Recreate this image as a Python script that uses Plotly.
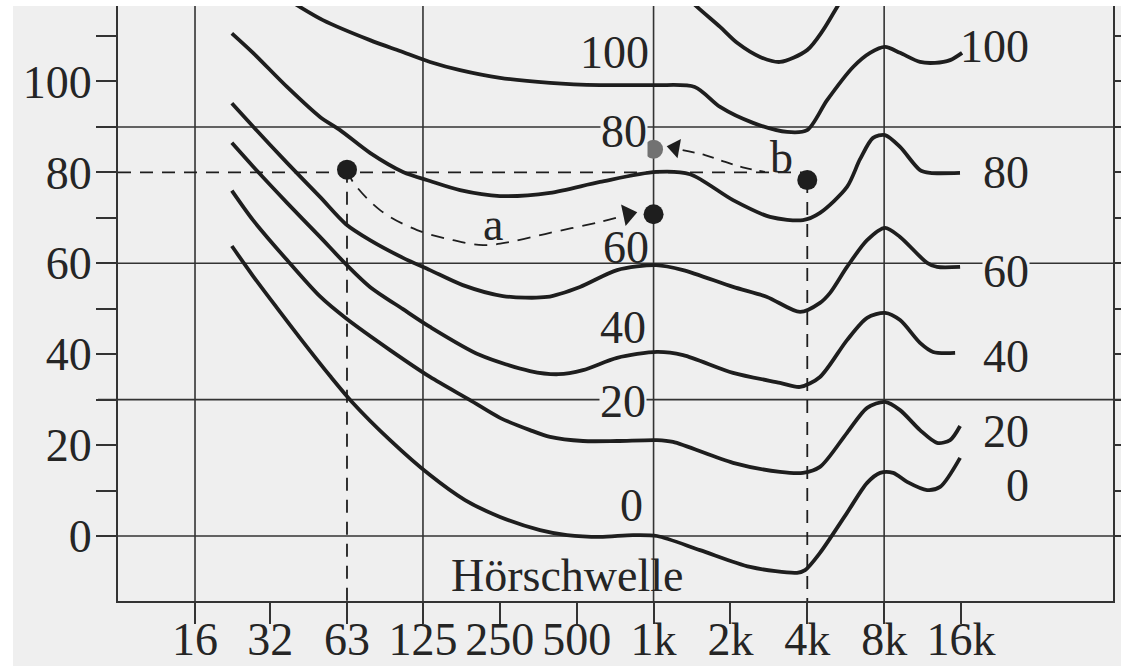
import numpy as np
import plotly.graph_objects as go

# ---- equal-loudness contours: frequency (Hz) and sound pressure level (dB) ----
f_0 = [22.3, 27.0, 33.5, 41.2, 54.1, 65.9, 92.9, 133.2, 182.6, 250.4, 359.2, 458.1, 617.1,
       830.9, 1031.6, 1520, 2387, 3648, 3922, 4486, 5724, 6861, 7714, 8675, 9840, 11786,
       13252, 15870]
L_0 = [63.8, 57.2, 50.2, 43.6, 35.2, 29.5, 21.1, 13.4, 7.9, 4.2, 1.3, 0.2, -0.2,
       0.2, 0.0, -3.1, -6.8, -8.1, -7.5, -3.7, 5.1, 11.7, 13.9, 13.9, 11.9, 10.1,
       10.8, 17.2]

f_20 = [22.3, 27.0, 36.7, 49.4, 62.4, 92.9, 133.2, 191.1, 250.4, 328.2, 393.1, 529.2, 719.5,
        1031.6, 1192, 2048, 3129, 3849, 4486, 5724, 6861, 8065, 9233, 11056, 12896, 14503,
        15870]
L_20 = [76.0, 69.5, 60.7, 52.7, 47.9, 40.9, 35.0, 29.9, 26.0, 23.3, 21.8, 20.9, 20.9,
        21.1, 20.7, 16.1, 14.1, 13.9, 15.2, 22.7, 28.2, 29.5, 27.7, 23.3, 20.5, 21.1,
        24.2]

f_40 = [22.3, 27.0, 36.7, 49.4, 62.4, 77.5, 104.4, 133.2, 209, 328.2, 424, 529.2, 719.5,
        1031.6, 1305, 2048, 3129, 3749, 4486, 5724, 6861, 8065, 9233, 11056, 12438, 15171]
L_40 = [86.5, 81.3, 73.3, 65.8, 59.8, 54.8, 49.9, 46.0, 39.8, 36.3, 35.6, 36.5, 39.2,
        40.5, 39.8, 35.9, 33.7, 32.8, 35.0, 43.1, 48.0, 49.1, 47.5, 42.5, 40.5, 40.3]

f_60 = [22.3, 27.0, 36.7, 49.4, 62.4, 77.5, 104.4, 133.2, 179, 257, 383, 515, 719.5, 1023,
        1305, 2048, 2782, 3749, 4486, 4914, 5724, 6861, 8065, 9233, 11786, 12896, 15870]
L_60 = [95.2, 90.1, 82.1, 74.6, 68.6, 65.1, 61.2, 58.5, 55.2, 52.8, 52.6, 54.8, 58.5, 59.6,
        58.5, 54.8, 52.6, 49.3, 51.3, 53.5, 59.2, 65.1, 67.8, 65.8, 60.1, 59.2, 59.2]

f_80 = [22.3, 27.0, 36.7, 49.4, 59.2, 77.5, 104.4, 133.2, 174.6, 250.4, 393.1, 617.1, 1023,
        1389, 2048, 2858, 3849, 4486, 5724, 6437, 7237, 8065, 9233, 11056, 12101, 15859]
L_80 = [110.6, 106.3, 98.8, 92.2, 89.3, 84.3, 80.1, 78.1, 76.1, 74.8, 75.5, 77.9, 80.1,
        79.6, 73.9, 70.2, 69.5, 71.1, 76.8, 82.9, 87.6, 88.2, 85.6, 80.5, 79.9, 79.9]

f_100 = [31.5, 41.2, 50.7, 77.5, 101.6, 133.2, 174.6, 250.4, 393.1, 617.1, 1023, 1450, 1822,
         2453, 3334, 3994, 4783, 6047, 7047, 8065, 9233, 11056, 12664, 14503, 16158]
L_100 = [120.6, 116.4, 113.5, 109.1, 106.7, 104.3, 102.5, 100.8, 99.7, 99.2, 99.2, 98.8, 94.4,
         90.9, 88.9, 89.3, 95.9, 103.2, 106.3, 107.6, 106.3, 104.3, 104.1, 104.7, 106.3]

f_120 = [1270, 1481, 1822, 2124, 2613, 3130, 3994, 4613, 5234, 5885]
L_120 = [120.1, 116.4, 112.0, 108.5, 105.4, 104.3, 106.9, 111.3, 116.4, 121.2]

# ---- example points and arrows ----
point_f = [63, 4000, 1000]
point_L = [80.6, 78.3, 70.8]
shifted_f = [1000]
shifted_L = [85.1]

path_a_f = [63, 66.5, 84.9, 118.6, 164, 215, 274, 393, 617, 780]
path_a_L = [80.6, 77.9, 71.7, 67.3, 65.1, 64.0, 64.7, 66.7, 69.1, 70.6]
path_b_f = [1300, 1590, 1910, 2280, 2730]
path_b_L = [84.9, 83.8, 82.3, 81.0, 80.1]
arrow_a = (794, 70.8)
arrow_b = (1214, 85.4)
ref_level = 80

# ---- axes ----
tick_f = [16, 31.5, 63, 125, 250, 500, 1000, 2000, 4000, 8000, 16000]
tick_txt = ["16", "32", "63", "125", "250", "500", "1k", "2k", "4k", "8k", "16k"]
grid_f = [16, 125, 1000, 8000]
grid_L = [0, 30, 60, 90]
y_ticks = list(range(0, 111, 10))
y_txt = [str(v) if v % 20 == 0 and v <= 100 else "" for v in y_ticks]

contour_labels = [("100", 706, 106.3), ("80", 766, 89.1), ("60", 780, 63.4),
                  ("40", 759, 45.8), ("20", 759, 29.5), ("0", 823, 6.8)]
right_labels = [("100", 107.6), ("80", 80.0), ("60", 58.3), ("40", 39.4),
                ("20", 22.9), ("0", 11.2)]

X_RANGE = [0.9025, 4.7994]
Y_RANGE = [-14.3, 117.93]

INK = "#1e1e1e"
LINE = "#333333"
PAPER = "#efefef"
FONT = "Liberation Serif"

fig = go.Figure()

curve_style = dict(color=INK, width=3.8, shape="spline", smoothing=0.8)
for fx, ly in [(f_0, L_0), (f_20, L_20), (f_40, L_40), (f_60, L_60),
               (f_80, L_80), (f_100, L_100), (f_120, L_120)]:
    fig.add_trace(go.Scatter(x=fx, y=ly, mode="lines", line=curve_style,
                             hoverinfo="skip", showlegend=False))

dash_style = dict(color=INK, width=1.8, dash="13px,9px")
# reference lines through the example points
fig.add_trace(go.Scatter(x=[10 ** X_RANGE[0], point_f[1]], y=[ref_level, ref_level],
                         mode="lines", line=dash_style, showlegend=False))
fig.add_trace(go.Scatter(x=[point_f[0], point_f[0]], y=[point_L[0], Y_RANGE[0]],
                         mode="lines", line=dash_style, showlegend=False))
fig.add_trace(go.Scatter(x=[point_f[1], point_f[1]], y=[point_L[1], Y_RANGE[0]],
                         mode="lines", line=dash_style, showlegend=False))
fig.add_trace(go.Scatter(x=path_a_f, y=path_a_L, mode="lines",
                         line=dict(color=INK, width=1.8, dash="13px,9px",
                                   shape="spline", smoothing=1.0), showlegend=False))
fig.add_trace(go.Scatter(x=path_b_f, y=path_b_L, mode="lines",
                         line=dict(color=INK, width=1.8, dash="12px,8px",
                                   shape="spline", smoothing=1.0), showlegend=False))

# arrow heads
fig.add_trace(go.Scatter(x=[arrow_a[0]], y=[arrow_a[1]], mode="markers",
                         marker=dict(symbol="triangle-right", size=19, color=INK, angle=-12),
                         showlegend=False))
fig.add_trace(go.Scatter(x=[arrow_b[0]], y=[arrow_b[1]], mode="markers",
                         marker=dict(symbol="triangle-left", size=17, color=INK, angle=10),
                         showlegend=False))

# points
fig.add_trace(go.Scatter(x=point_f, y=point_L, mode="markers",
                         marker=dict(size=20, color=INK), showlegend=False))
fig.add_trace(go.Scatter(x=shifted_f, y=shifted_L, mode="markers",
                         marker=dict(size=19, color="#727272"), showlegend=False))

shapes = []
for g in grid_L:
    shapes.append(dict(type="line", xref="paper", yref="y", x0=-20 / 995, x1=1.02,
                       y0=g, y1=g, line=dict(color=LINE, width=1.6), layer="below"))
for g in grid_f:
    shapes.append(dict(type="line", xref="x", yref="paper", x0=g, x1=g, y0=0, y1=1,
                       line=dict(color=LINE, width=1.6), layer="below"))
# unprinted edge of the sheet
shapes.append(dict(type="rect", xref="paper", yref="paper", x0=-0.2, x1=1.1,
                   y0=1 - 6 / 601, y1=1.01, fillcolor="white", line=dict(width=0),
                   layer="above"))
shapes.append(dict(type="rect", xref="paper", yref="paper", x0=-0.2, x1=-105 / 995,
                   y0=-0.2, y1=1.01, fillcolor="white", line=dict(width=0), layer="above"))

annotations = []
txt_font = dict(family=FONT, size=46, color="#252525")
masked = {"80", "20"}
for t, f, lv in contour_labels:
    annotations.append(dict(x=np.log10(f), y=lv, xref="x", yref="y", text=t,
                            showarrow=False, font=txt_font,
                            bgcolor=PAPER if t in masked else None, borderpad=0))
for t, lv in right_labels:
    annotations.append(dict(x=4.4744, y=lv, xref="x", yref="y", text=t,
                            showarrow=False, font=txt_font, xanchor="right",
                            bgcolor=PAPER if t == "60" else None, borderpad=0))
annotations.append(dict(x=np.log10(458), y=-8.6, xref="x", yref="y", text="Hörschwelle",
                        showarrow=False, font=txt_font))
annotations.append(dict(x=np.log10(235), y=68.5, xref="x", yref="y", text="a",
                        showarrow=False, font=txt_font))
annotations.append(dict(x=3.503, y=83.3, xref="x", yref="y", text="b",
                        showarrow=False, font=txt_font))

fig.update_layout(
    width=1121, height=666,
    margin=dict(l=118, r=8, t=0, b=65),
    paper_bgcolor=PAPER, plot_bgcolor=PAPER,
    shapes=shapes, annotations=annotations,
    font=dict(family=FONT, size=46, color="#252525"),
    xaxis=dict(type="log", range=X_RANGE, tickvals=tick_f, ticktext=tick_txt,
               ticks="outside", ticklen=21, tickwidth=1.6, tickcolor=LINE,
               showline=True, linecolor=LINE, linewidth=2, showgrid=False,
               zeroline=False, automargin=False, ticklabelstandoff=-24,
               tickfont=dict(family=FONT, size=46, color="#252525")),
    yaxis=dict(range=Y_RANGE, tickvals=y_ticks, ticktext=y_txt,
               ticks="outside", ticklen=20, tickwidth=1.6, tickcolor=LINE,
               showline=True, linecolor=LINE, linewidth=2, mirror="ticks",
               showgrid=False, zeroline=False, automargin=False, ticklabelstandoff=-5,
               tickfont=dict(family=FONT, size=46, color="#252525")),
)

fig.write_html("out.html")
